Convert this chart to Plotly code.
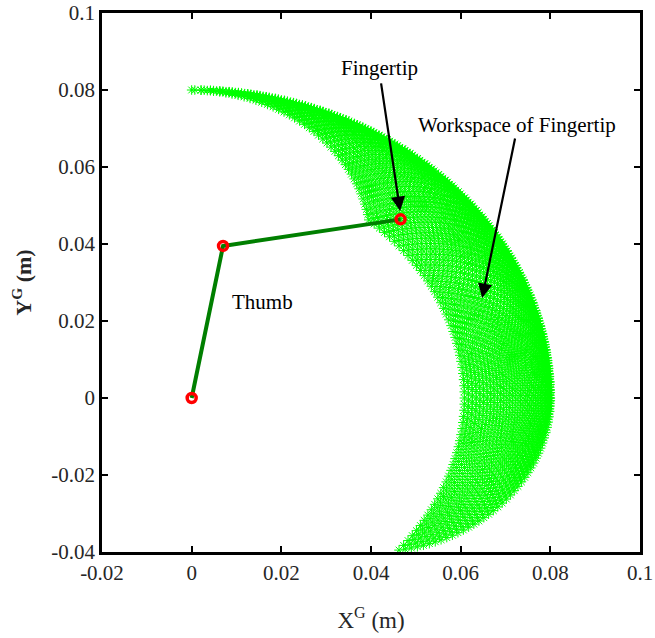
import numpy as np
import plotly.graph_objects as go

# ---- data ----
link_lengths = [0.04, 0.04]              # m
theta1_range_deg = [0.0, 90.0]           # joint 1 limits
theta2_range_deg = [-81.0, 0.0]          # joint 2 limits
theta1_step_deg = 1.5
theta2_step_deg = 2.0

arm_x = [0.0, 0.007, 0.0466]
arm_y = [0.0, 0.0395, 0.0464]

x_ticks = [-0.02, 0, 0.02, 0.04, 0.06, 0.08, 0.1]
x_ticklabels = ["-0.02", "0", "0.02", "0.04", "0.06", "0.08", "0.1"]
y_ticks = [-0.04, -0.02, 0, 0.02, 0.04, 0.06, 0.08, 0.1]
y_ticklabels = ["-0.04", "-0.02", "0", "0.02", "0.04", "0.06", "0.08", "0.1"]

# ---- workspace (forward kinematics over the joint grid) ----
t1 = np.deg2rad(np.arange(theta1_range_deg[0], theta1_range_deg[1] + 1e-9, theta1_step_deg))
t2 = np.deg2rad(np.arange(theta2_range_deg[0], theta2_range_deg[1] + 1e-9, theta2_step_deg))
if abs(np.rad2deg(t2[-1]) - theta2_range_deg[1]) > 1e-6:
    t2 = np.append(t2, np.deg2rad(theta2_range_deg[1]))
T1, T2 = np.meshgrid(t1, t2)
L1, L2 = link_lengths
ws_x = (L1 * np.cos(T1) + L2 * np.cos(T1 + T2)).ravel()
ws_y = (L1 * np.sin(T1) + L2 * np.sin(T1 + T2)).ravel()

FONT = "Liberation Serif"
GREEN = "#00ff00"

fig = go.Figure()
fig.add_trace(go.Scatter(
    x=ws_x, y=ws_y, mode="markers",
    marker=dict(symbol="asterisk-open", size=8, color=GREEN,
                line=dict(color=GREEN, width=1)),
    hoverinfo="skip", showlegend=False))
fig.add_trace(go.Scatter(
    x=arm_x, y=arm_y, mode="lines",
    line=dict(color="#007f00", width=4), showlegend=False))
fig.add_trace(go.Scatter(
    x=arm_x, y=arm_y, mode="markers",
    marker=dict(symbol="circle-open", size=9, color="#ff0000",
                line=dict(color="#ff0000", width=3.5)),
    showlegend=False))

axis_common = dict(
    showline=True, linecolor="black", linewidth=2.5, mirror="ticks",
    ticks="inside", ticklen=6, tickwidth=2, tickcolor="black",
    showgrid=False, zeroline=False, automargin=False,
    tickfont=dict(family=FONT, size=21, color="#262626"),
)

fig.update_layout(
    width=655, height=638,
    margin=dict(l=102, r=15, t=13, b=86),
    plot_bgcolor="white", paper_bgcolor="white",
    xaxis=dict(range=[-0.02, 0.1], tickvals=x_ticks, ticktext=x_ticklabels,
               title=dict(text="X<sup>G</sup> (m)", font=dict(family=FONT, size=23, color="#262626"),
                          standoff=28),
               **axis_common),
    yaxis=dict(range=[-0.04, 0.1], tickvals=y_ticks, ticktext=y_ticklabels,
               title=dict(text="<b>Y<sup>G</sup> (m)</b>", font=dict(family=FONT, size=22, color="#262626"),
                          standoff=14),
               **axis_common),
    showlegend=False,
)

text_font = dict(family=FONT, size=21, color="black")
# arrows
fig.add_annotation(x=0.0465, y=0.0486, ax=0.0422, ay=0.0821, xref="x", yref="y",
                   axref="x", ayref="y", text="", showarrow=True, arrowhead=2,
                   arrowsize=1.3, arrowwidth=2.2, arrowcolor="black")
fig.add_annotation(x=0.0648, y=0.0260, ax=0.0722, ay=0.0678, xref="x", yref="y",
                   axref="x", ayref="y", text="", showarrow=True, arrowhead=2,
                   arrowsize=1.3, arrowwidth=2.2, arrowcolor="black")
# labels
fig.add_annotation(x=0.0420, y=0.0857, text="Fingertip", showarrow=False, font=text_font)
fig.add_annotation(x=0.0726, y=0.0709, text="Workspace of Fingertip", showarrow=False, font=text_font)
fig.add_annotation(x=0.0159, y=0.0249, text="Thumb", showarrow=False, font=text_font)

fig.write_html("out.html")
